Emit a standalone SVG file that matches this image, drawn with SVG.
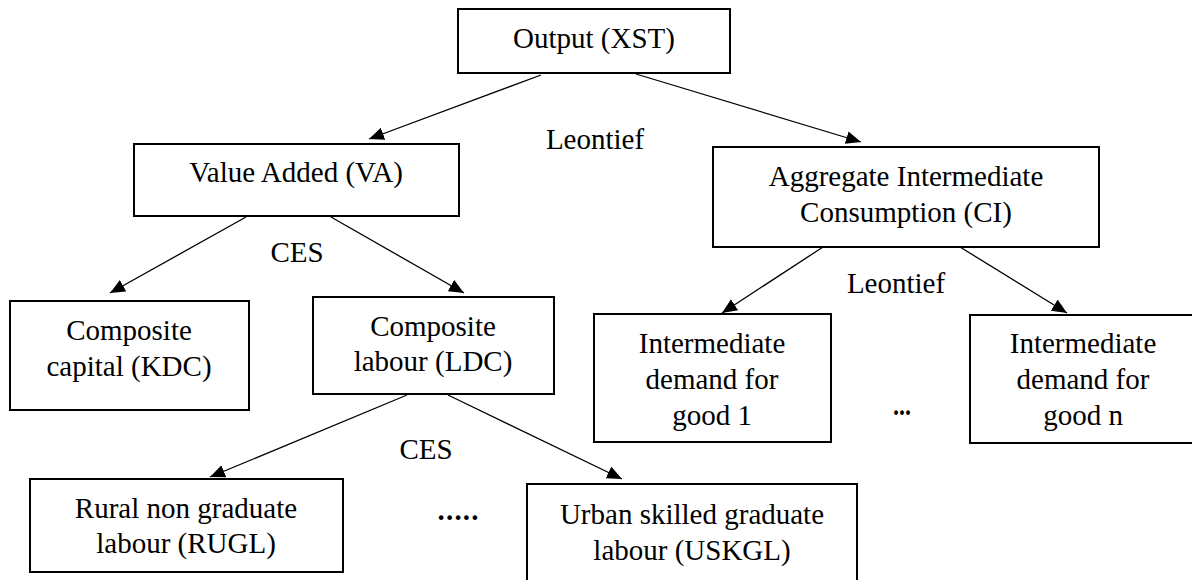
<svg xmlns="http://www.w3.org/2000/svg" width="1192" height="580" viewBox="0 0 1192 580">
<style>
.box{fill:#fff;stroke:#000;stroke-width:2}
.t{font-family:"Liberation Serif","Times New Roman",serif;font-size:29px;fill:#000;text-anchor:middle}
.c{stroke:#000;stroke-width:1.3;fill:none;marker-end:url(#ah)}
</style>
<defs>
<marker id="ah" markerUnits="userSpaceOnUse" markerWidth="16" markerHeight="14" refX="15" refY="6.5" orient="auto">
<path d="M0,0 L15,6.5 L0,13 z" fill="#000"/>
</marker>
</defs>
<rect width="1192" height="580" fill="#fff"/>
<g id="connectors">
<line class="c" x1="541" y1="75" x2="369" y2="139"/>
<line class="c" x1="636" y1="74" x2="861" y2="142"/>
<line class="c" x1="246" y1="217" x2="110" y2="293"/>
<line class="c" x1="331" y1="217" x2="464" y2="293"/>
<line class="c" x1="407" y1="395" x2="210" y2="477"/>
<line class="c" x1="448" y1="395" x2="622" y2="479"/>
<line class="c" x1="823" y1="247" x2="722" y2="313"/>
<line class="c" x1="960" y1="247" x2="1067" y2="313"/>
</g>
<g id="labels">
<text class="t" x="595" y="149">Leontief</text>
<text class="t" x="297" y="262">CES</text>
<text class="t" x="896" y="293">Leontief</text>
<text class="t" x="426" y="459">CES</text>
<text class="t" x="458" y="520" font-weight="bold" textLength="41" lengthAdjust="spacing">.....</text>
<text class="t" x="902" y="415" font-weight="bold" textLength="18" lengthAdjust="spacingAndGlyphs">...</text>
</g>
<g id="n-output">
<rect class="box" x="458" y="9" width="272" height="64"/>
<text class="t" x="594" y="48">Output (XST)</text>
</g>
<g id="n-va">
<rect class="box" x="134" y="144" width="325" height="72"/>
<text class="t" x="296" y="182">Value Added (VA)</text>
</g>
<g id="n-ci">
<rect class="box" x="713" y="147" width="386" height="100"/>
<text class="t" x="906" y="186">Aggregate Intermediate</text>
<text class="t" x="906" y="222">Consumption (CI)</text>
</g>
<g id="n-kdc">
<rect class="box" x="10" y="301" width="239" height="109"/>
<text class="t" x="129" y="340">Composite</text>
<text class="t" x="129" y="376">capital (KDC)</text>
</g>
<g id="n-ldc">
<rect class="box" x="313" y="297" width="241" height="97"/>
<text class="t" x="433" y="336">Composite</text>
<text class="t" x="433" y="371">labour (LDC)</text>
</g>
<g id="n-good1">
<rect class="box" x="594" y="314" width="237" height="128"/>
<text class="t" x="712" y="353">Intermediate</text>
<text class="t" x="712" y="389">demand for</text>
<text class="t" x="712" y="425">good 1</text>
</g>
<g id="n-goodn">
<rect class="box" x="970" y="315" width="227" height="128"/>
<text class="t" x="1083" y="353">Intermediate</text>
<text class="t" x="1083" y="389">demand for</text>
<text class="t" x="1083" y="425">good n</text>
</g>
<g id="n-rugl">
<rect class="box" x="30" y="479" width="313" height="93"/>
<text class="t" x="186" y="518">Rural non graduate</text>
<text class="t" x="186" y="553">labour (RUGL)</text>
</g>
<g id="n-uskgl">
<rect class="box" x="527" y="484" width="330" height="110"/>
<text class="t" x="692" y="524">Urban skilled graduate</text>
<text class="t" x="692" y="560">labour (USKGL)</text>
</g>
</svg>
